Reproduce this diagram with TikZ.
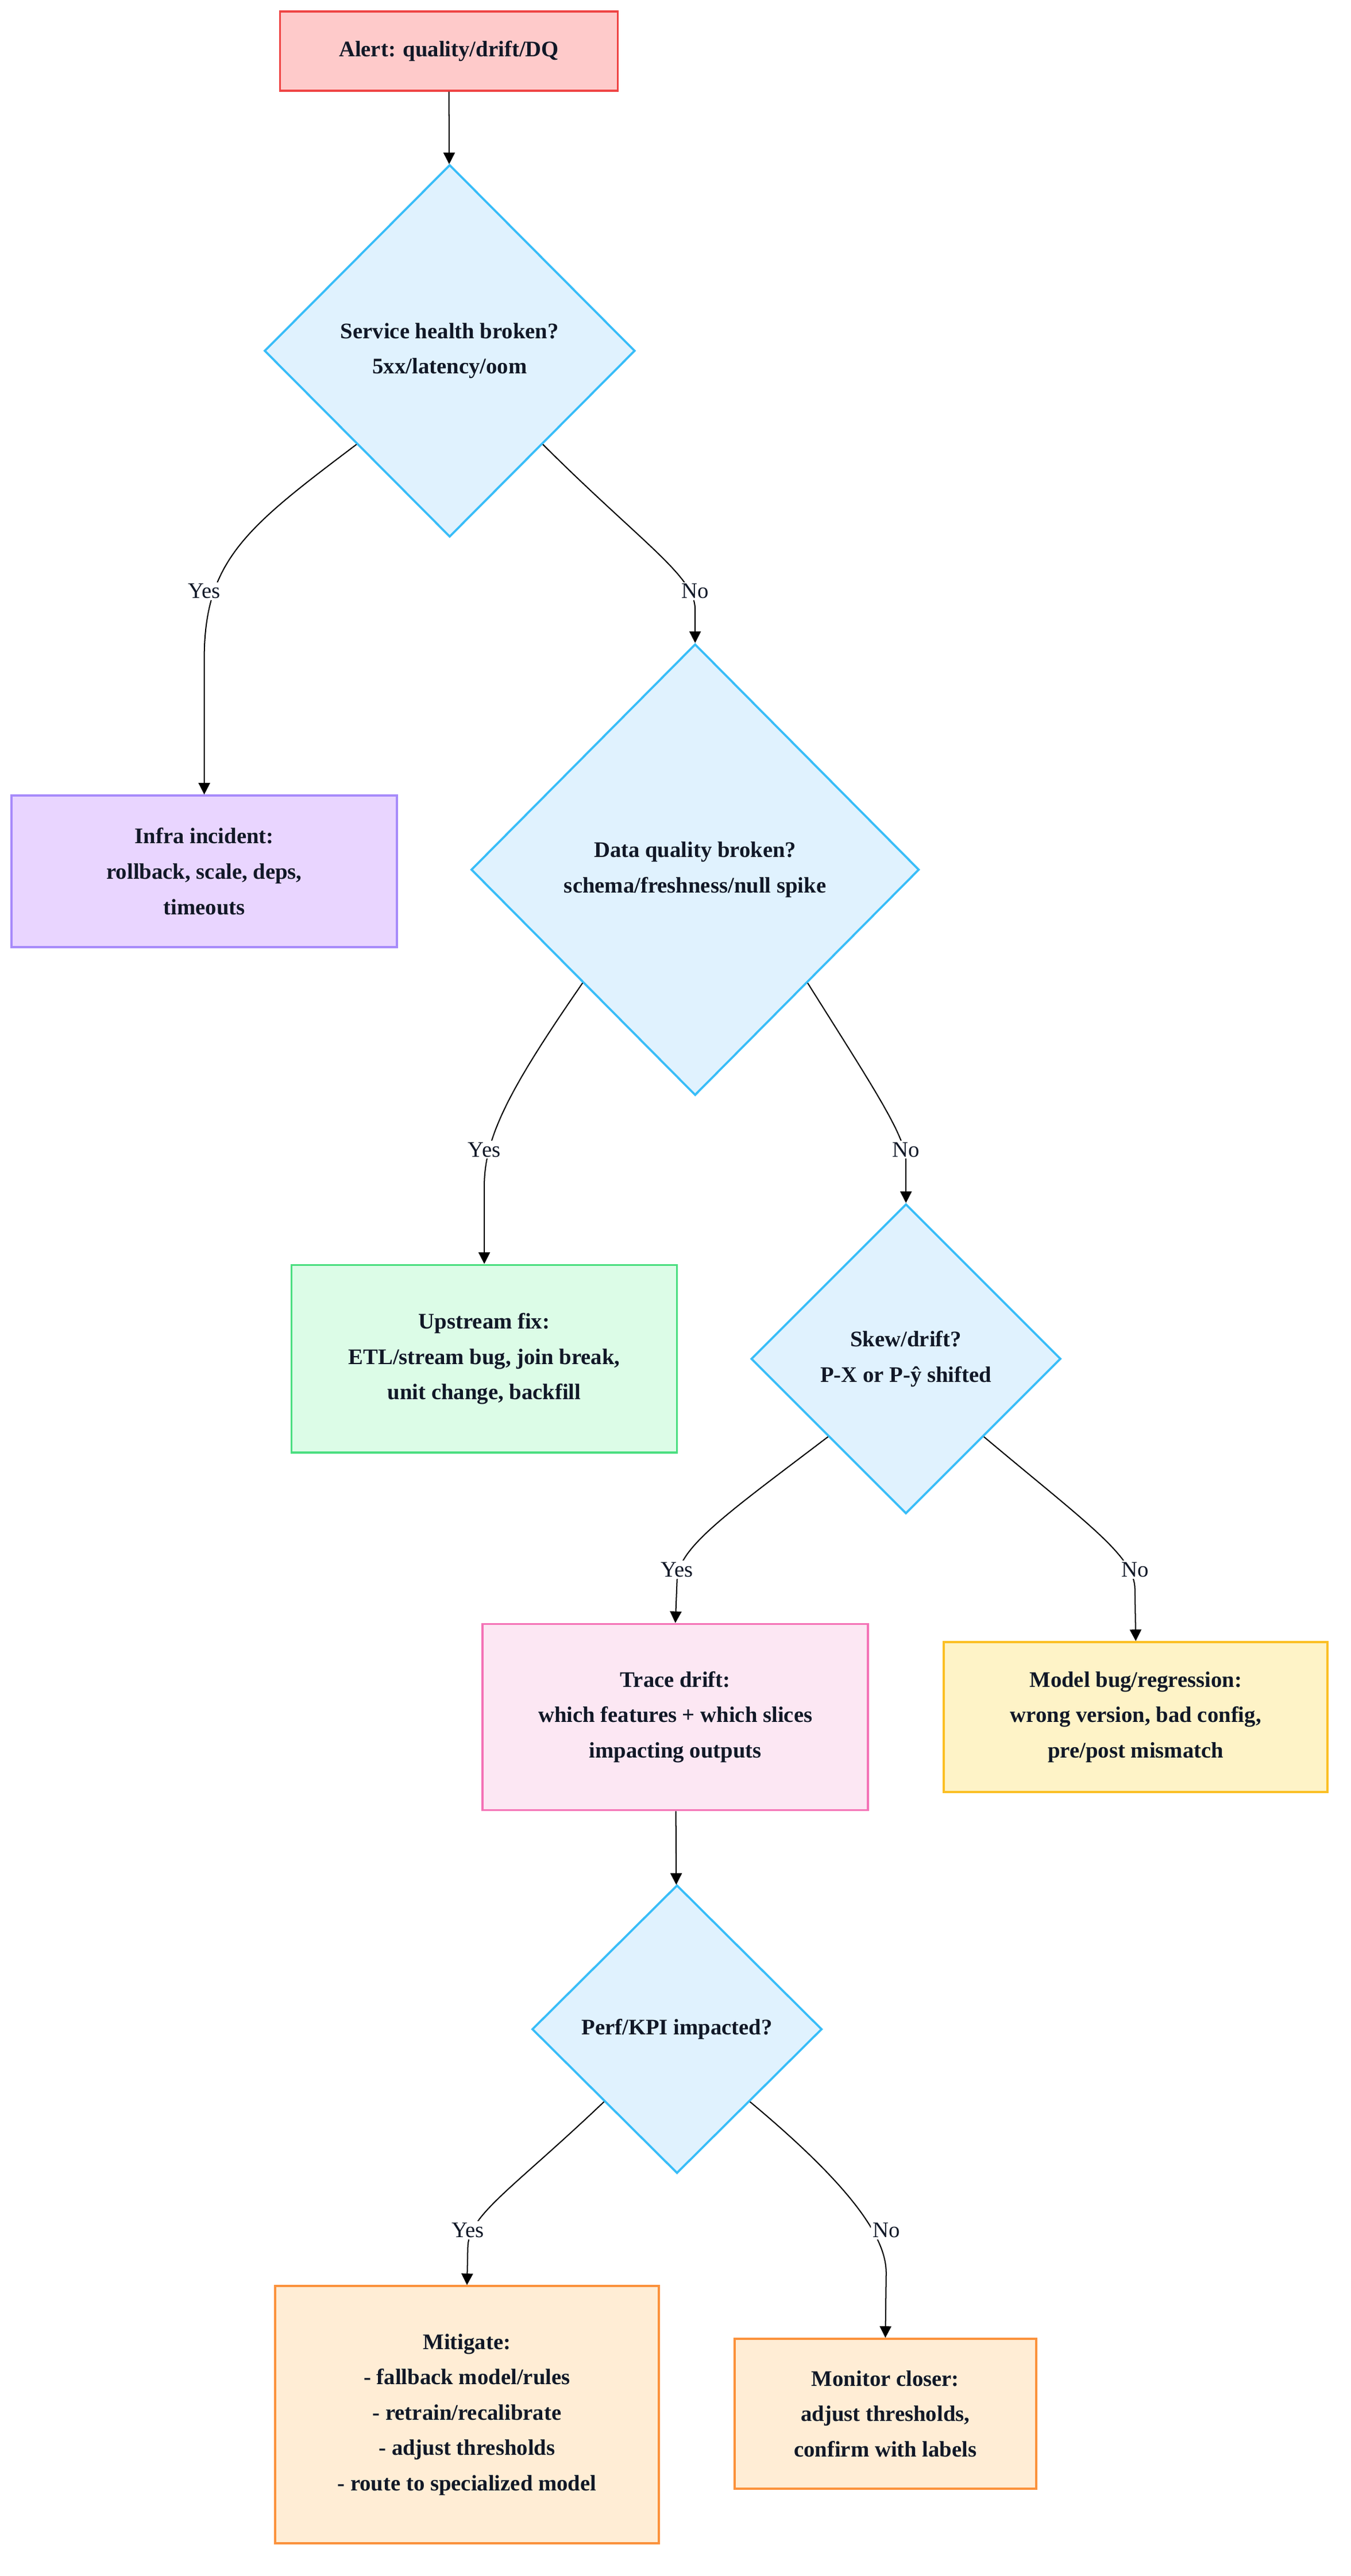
\documentclass[tikz,border=0pt]{standalone}
\usepackage{fontspec}
\setmainfont{Liberation Serif}
\usetikzlibrary{shapes.geometric,arrows.meta,calc}
\definecolor{tx}{HTML}{111827}
\begin{document}
\begin{tikzpicture}[x=1pt,y=-1pt,
  base/.style={draw,line width=1.3pt,font=\bfseries\fontsize{13.5}{21.5}\selectfont,text=tx,align=center,inner sep=0pt},
  box/.style={base,rectangle},
  dia/.style={base,diamond,aspect=1,draw=cyan!70!blue!60,draw={rgb,255:red,56;green,189;blue,248},fill={rgb,255:red,224;green,242;blue,254}},
  arr/.style={draw=black,line width=0.7pt,-{Triangle[length=7pt,width=7pt]}},
  lbl/.style={fill=white,inner sep=1pt,font=\fontsize{13.5}{16}\selectfont,text=tx}]
\useasboundingbox (0,0) rectangle (820,1564);
\fill[white] (0,0) rectangle (820,1564);
% boxes
\node[box,draw={rgb,255:red,239;green,68;blue,68},fill={rgb,255:red,254;green,202;blue,202},minimum width=205,minimum height=48] (alert) at (272.5,31) {Alert: quality/drift/DQ};
\node[dia,minimum width=225,minimum height=226] (d1) at (273,213) {Service health broken?\\5xx/latency/oom};
\node[box,draw={rgb,255:red,167;green,139;blue,250},fill={rgb,255:red,233;green,213;blue,255},minimum width=234,minimum height=92] (infra) at (124,529) {Infra incident:\\rollback, scale, deps,\\timeouts};
\node[dia,minimum width=272,minimum height=274] (d2) at (422,528) {Data quality broken?\\schema/freshness/null spike};
\node[box,draw={rgb,255:red,74;green,222;blue,128},fill={rgb,255:red,220;green,252;blue,231},minimum width=234,minimum height=114] (up) at (294,825) {Upstream fix:\\ETL/stream bug, join break,\\unit change, backfill};
\node[dia,minimum width=188,minimum height=188] (d3) at (550,825) {Skew/drift?\\P-X or P-ŷ shifted};
\node[box,draw={rgb,255:red,244;green,114;blue,182},fill={rgb,255:red,252;green,231;blue,243},minimum width=234,minimum height=113] (trace) at (410,1042.5) {Trace drift:\\which features + which slices\\impacting outputs};
\node[box,draw={rgb,255:red,251;green,191;blue,36},fill={rgb,255:red,254;green,243;blue,199},minimum width=233,minimum height=91] (model) at (689.5,1042.5) {Model bug/regression:\\wrong version, bad config,\\pre/post mismatch};
\node[dia,minimum width=176,minimum height=175] (d4) at (411,1232) {Perf/KPI impacted?};
\node[box,draw={rgb,255:red,251;green,146;blue,60},fill={rgb,255:red,255;green,237;blue,213},minimum width=233,minimum height=156] (mit) at (283.5,1466) {Mitigate:\\- fallback model/rules\\- retrain/recalibrate\\- adjust thresholds\\- route to specialized model};
\node[box,draw={rgb,255:red,251;green,146;blue,60},fill={rgb,255:red,255;green,237;blue,213},minimum width=183,minimum height=91] (mon) at (537.5,1465.5) {Monitor closer:\\adjust thresholds,\\confirm with labels};
% connector points
\coordinate (s1y) at ($(d1.west)!0.5!(d1.south)$);
\coordinate (s1n) at ($(d1.east)!0.5!(d1.south)$);
\coordinate (s2y) at ($(d2.west)!0.5!(d2.south)$);
\coordinate (s2n) at ($(d2.east)!0.5!(d2.south)$);
\coordinate (s3y) at ($(d3.west)!0.5!(d3.south)$);
\coordinate (s3n) at ($(d3.east)!0.5!(d3.south)$);
\coordinate (s4y) at ($(d4.west)!0.5!(d4.south)$);
\coordinate (s4n) at ($(d4.east)!0.5!(d4.south)$);
\draw[arr] (alert) -- (d1);
\draw[arr] (s1y) .. controls (150,320) and (124,340) .. (124,400) -- (infra.north);
\node[lbl] (l1) at (124,359) {Yes};
\draw[arr] (s1n) .. controls (390,330) and (422,350) .. (422,370) -- (d2.north);
\node[lbl] (l2) at (422,359) {No};
\draw[arr] (s2y) .. controls (310,660) and (294,690) .. (294,720) -- (up.north);
\node[lbl] (l3) at (294,698) {Yes};
\draw[arr] (s2n) .. controls (530,660) and (550,690) .. (550,705) -- (d3.north);
\node[lbl] (l4) at (550,698) {No};
\draw[arr] (s3y) .. controls (440,920) and (411,940) .. (411,960) -- (trace.north);
\node[lbl] (l5) at (411,953) {Yes};
\draw[arr] (s3n) .. controls (660,925) and (689,945) .. (689,965) -- (model.north);
\node[lbl] (l6) at (689,953) {No};
\draw[arr] (trace) -- (d4);
\draw[arr] (s4y) .. controls (310,1330) and (284,1345) .. (284,1365) -- (mit.north);
\node[lbl] (l7) at (284,1354) {Yes};
\draw[arr] (s4n) .. controls (520,1330) and (538,1360) .. (538,1380) -- (mon.north);
\node[lbl] (l8) at (538,1354) {No};
\end{tikzpicture}
\end{document}
